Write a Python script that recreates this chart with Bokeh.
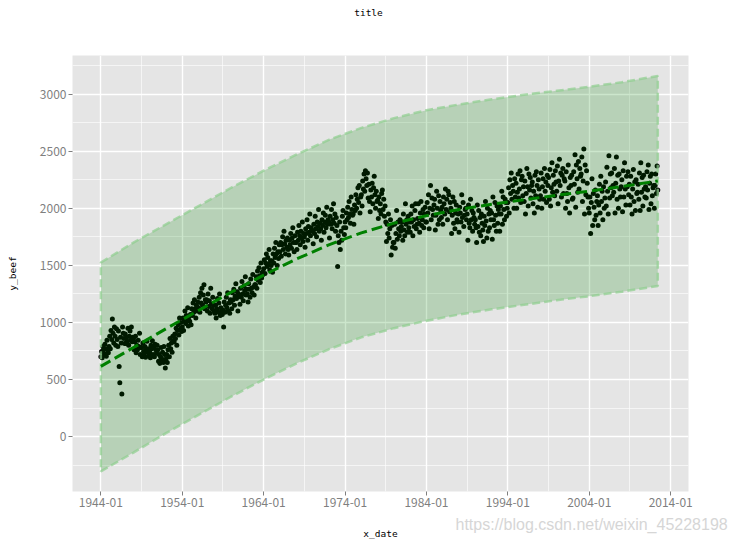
import pandas as pd
from bokeh.plotting import figure
from bokeh.models import Range1d, FixedTicker, DatetimeTickFormatter, Label, ColumnDataSource
from bokeh.embed import file_html
from bokeh.resources import INLINE

# ---- monthly beef values, 1944-01 .. 2012-06 ----
beef_1940s = [
    700, 745, 690, 790, 760, 725, 810, 770, 705, 845, 760, 735,
    790, 880, 770, 930, 850, 1030, 905, 820, 960, 880, 800, 945,
    850, 790, 925, 614, 471, 870, 820, 374, 960, 905, 860, 815,
    900, 815, 870, 835, 950, 800, 880, 925, 845, 960, 830, 870,
    860, 760, 830, 880, 735, 800, 760, 845, 790, 905, 720, 780,
    780, 700, 820, 745, 720, 790, 695, 760, 835, 740, 770, 710,
]
beef_1950s = [
    740, 690, 800, 770, 840, 720, 780, 700, 810, 760, 730, 800,
    760, 660, 720, 640, 700, 780, 680, 740, 650, 790, 720, 602,
    680, 720, 650, 760, 800, 700, 860, 770, 820, 740, 880, 840,
    830, 900, 860, 950, 800, 930, 980, 890, 1040, 940, 1000, 920,
    960, 1040, 930, 1010, 1100, 990, 1060, 1020, 1130, 970, 1050, 1010,
    1070, 980, 1120, 1060, 1170, 1090, 1200, 1120, 1040, 1150, 1100, 1180,
    1130, 1220, 1090, 1260, 1170, 1300, 1150, 1240, 1330, 1120, 1200, 1180,
    1200, 1100, 1250, 1140, 1190, 1080, 1300, 1160, 1120, 1220, 1150, 1100,
    1080, 1150, 1040, 1120, 1210, 1090, 1170, 1250, 1060, 1130, 1100, 1070,
    1110, 960, 1180, 1090, 1150, 1220, 1130, 1260, 1100, 1170, 1080, 1200,
]
beef_1960s = [
    1180, 1120, 1260, 1200, 1290, 1150, 1230, 1340, 1210, 1270, 1100, 1250,
    1230, 1160, 1300, 1220, 1360, 1250, 1190, 1320, 1280, 1400, 1240, 1290,
    1250, 1180, 1340, 1290, 1220, 1380, 1300, 1260, 1420, 1310, 1240, 1330,
    1330, 1400, 1300, 1450, 1370, 1480, 1410, 1350, 1520, 1390, 1440, 1420,
    1470, 1550, 1430, 1520, 1600, 1490, 1570, 1510, 1640, 1460, 1540, 1500,
    1540, 1440, 1600, 1520, 1650, 1570, 1700, 1600, 1500, 1620, 1560, 1680,
    1620, 1700, 1580, 1680, 1750, 1640, 1800, 1690, 1600, 1720, 1660, 1740,
    1640, 1590, 1720, 1680, 1780, 1650, 1740, 1830, 1700, 1620, 1760, 1700,
    1700, 1640, 1790, 1720, 1850, 1760, 1680, 1800, 1740, 1880, 1710, 1780,
    1750, 1660, 1820, 1780, 1900, 1720, 1840, 1790, 1950, 1760, 1830, 1810,
]
beef_1970s = [
    1800, 1690, 1860, 1780, 1930, 1820, 1750, 1880, 1840, 1990, 1800, 1870,
    1820, 1720, 1900, 1850, 1960, 1790, 1880, 1940, 1830, 2010, 1860, 1900,
    1880, 1740, 1930, 1860, 1990, 1820, 1900, 2040, 1870, 1950, 1800, 1920,
    1850, 1490, 1760, 1700, 1880, 1640, 1800, 1720, 1930, 1980, 1830, 1770,
    1880, 1830, 1960, 1900, 2010, 1920, 2060, 1950, 1870, 2100, 1990, 1940,
    1950, 1860, 2030, 1980, 2120, 2000, 2080, 2180, 2050, 2200, 1960, 2100,
    2120, 2020, 2240, 2170, 2300, 2150, 2330, 2260, 2200, 2310, 2090, 2210,
    2060, 1970, 2160, 2100, 2220, 2040, 2180, 2280, 2120, 2000, 2150, 2060,
    2070, 1910, 2100, 1980, 2040, 1950, 2130, 2160, 1990, 2080, 1930, 2020,
    1880, 1710, 1860, 1780, 1950, 1740, 1820, 1900, 1590, 1850, 1660, 1700,
]
beef_1980s = [
    1700, 1860, 1650, 1780, 1980, 1730, 1880, 1820, 1760, 1900, 1800, 1840,
    1880, 1720, 1950, 1810, 1760, 2040, 1860, 1900, 1790, 1930, 1830, 1880,
    1790, 1950, 1880, 2020, 1760, 1900, 1840, 1980, 2040, 1820, 1860, 1910,
    2040, 1870, 1790, 1960, 2060, 1850, 1900, 1990, 1830, 1950, 2010, 1880,
    1880, 2050, 1960, 2120, 1820, 2000, 2200, 1900, 2090, 1990, 1940, 2030,
    2080, 1810, 1940, 2150, 2000, 1860, 2110, 1900, 2060, 1980, 1920, 2010,
    1860, 2100, 2040, 1950, 2170, 1990, 2080, 1900, 2150, 2120, 1970, 2050,
    2000, 1780, 1940, 2100, 1870, 2060, 1820, 1960, 2030, 1900, 1880, 1950,
    1790, 2010, 1960, 1880, 2120, 1920, 2050, 1840, 1940, 1990, 2000, 1900,
    1950, 1720, 2030, 1870, 1830, 2080, 1900, 1980, 1800, 1960, 1920, 1860,
]
beef_1990s = [
    1900, 1830, 1700, 2030, 1840, 1980, 1790, 1920, 1760, 1950, 1870, 1810,
    1710, 1930, 1850, 2060, 1890, 1740, 2000, 1800, 1950, 1830, 1980, 1900,
    1960, 1730, 2100, 1900, 1850, 2050, 1940, 1800, 2020, 1870, 1990, 1950,
    1800, 2020, 1950, 2150, 1860, 2100, 1990, 1900, 2080, 2050, 1930, 2000,
    2050, 2180, 1960, 2250, 2130, 2310, 2080, 2200, 2150, 2000, 2260, 2100,
    2220, 2000, 2140, 2300, 2090, 2170, 2330, 2050, 2250, 2280, 2110, 2190,
    2060, 2240, 1950, 2130, 2350, 2190, 2020, 2300, 2160, 2270, 2090, 2200,
    2230, 2040, 2150, 1960, 2290, 2110, 2320, 2200, 2010, 2250, 2170, 2080,
    2110, 2310, 2000, 2190, 2260, 2080, 2350, 2150, 2230, 2050, 2290, 2200,
    2270, 2080, 2340, 2020, 2180, 2400, 2140, 2290, 2210, 2110, 2330, 2230,
]
beef_2000s = [
    2150, 2370, 2040, 2240, 2430, 2200, 2310, 2100, 2290, 2350, 2130, 2260,
    2240, 2000, 2320, 2130, 2060, 2380, 2180, 1960, 2270, 2200, 2290, 2080,
    2090, 2320, 2210, 2470, 2010, 2380, 2260, 2140, 2410, 2170, 2350, 2280,
    2300, 2450, 2060, 2240, 2520, 1950, 2380, 2120, 2330, 2220, 2100, 2000,
    1960, 2100, 1780, 2050, 2260, 1850, 2130, 2010, 1900, 2160, 1940, 2060,
    2110, 1850, 2030, 2210, 1960, 2280, 2060, 2150, 1900, 2190, 2000, 2090,
    2230, 2020, 2360, 2150, 1950, 2460, 2090, 2300, 2180, 2310, 2110, 2200,
    2140, 2350, 1960, 2220, 2450, 2080, 2290, 2000, 2300, 2170, 2100, 2190,
    2250, 1970, 2330, 2100, 2400, 2170, 2030, 2280, 2190, 2320, 2120, 2210,
    2030, 2280, 2100, 1950, 2170, 2340, 2060, 2230, 1980, 2250, 2130, 2140,
]
beef_2010s = [
    2210, 2080, 2310, 1980, 2400, 2140, 2270, 2020, 2290, 2170, 2100, 2190,
    2090, 2320, 2160, 2380, 1990, 2220, 2280, 2040, 2300, 2110, 2180, 2200,
    2000, 2200, 2300, 2130, 2370, 2160,
]
first_month = "1944-01-01"

# ---- fitted trend and its band ----
fit_dates = ["1944-01-01", "1948-01-01", "1952-01-01", "1956-01-01", "1960-01-01",
             "1964-01-01", "1968-01-01", "1972-01-01", "1976-01-01", "1980-01-01",
             "1984-01-01", "1988-01-01", "1992-01-01", "1996-01-01", "2000-01-01",
             "2004-01-01", "2008-01-01", "2012-06-01"]
fit_values = [615, 780, 945, 1105, 1265, 1415, 1555, 1680, 1785, 1870,
              1935, 1990, 2035, 2075, 2115, 2150, 2190, 2240]
band_upper = [1525, 1700, 1860, 2020, 2180, 2330, 2470, 2600, 2705, 2790,
              2860, 2910, 2955, 2995, 3030, 3065, 3105, 3160]
band_lower = [-305, -140, 30, 190, 350, 500, 640, 765, 870, 950,
              1015, 1070, 1115, 1155, 1195, 1230, 1270, 1320]

y_ticks = [0, 500, 1000, 1500, 2000, 2500, 3000]
y_minor = [-250, 250, 750, 1250, 1750, 2250, 2750, 3250]
x_tick_dates = ["1944-01-01", "1954-01-01", "1964-01-01", "1974-01-01",
                "1984-01-01", "1994-01-01", "2004-01-01", "2014-01-01"]
x_minor_dates = ["1949-01-01", "1959-01-01", "1969-01-01", "1979-01-01",
                 "1989-01-01", "1999-01-01", "2009-01-01"]


def ms(d):
    return pd.Timestamp(d).value / 1e6


beef = beef_1940s + beef_1950s + beef_1960s + beef_1970s + beef_1980s + beef_1990s + beef_2000s + beef_2010s
dates = pd.date_range(first_month, periods=len(beef), freq="MS")
pts = ColumnDataSource(dict(x=dates, y=beef))

fx = [pd.Timestamp(d) for d in fit_dates]

p = figure(width=736, height=543, x_axis_type="datetime", output_backend="svg",
           toolbar_location=None,
           x_range=Range1d(ms("1940-07-08"), ms("2016-03-10")),
           y_range=Range1d(-481, 3339),
           min_border_left=72, min_border_right=48, min_border_top=55, min_border_bottom=52)

p.background_fill_color = "#E5E5E5"
p.border_fill_color = "white"
p.outline_line_color = None

# points (drawn first, ribbon on top of them)
p.scatter("x", "y", source=pts, size=5, fill_color="black", line_color=None)

# ribbon
p.patch(fx + fx[::-1], band_upper + band_lower[::-1],
        fill_color="#008000", fill_alpha=0.2,
        line_color="#8fce8f", line_alpha=0.7, line_width=2.5, line_dash="8 4")

# fit line
p.line(fx, fit_values, line_color="#008000", line_width=3, line_dash="11 5")

# ticks / grids
xt = FixedTicker(ticks=[ms(d) for d in x_tick_dates], minor_ticks=[ms(d) for d in x_minor_dates])
yt = FixedTicker(ticks=y_ticks, minor_ticks=y_minor)
p.xaxis.ticker = xt
p.yaxis.ticker = yt
p.xgrid.ticker = xt
p.ygrid.ticker = yt
fmt = "%Y-%m"
p.xaxis.formatter = DatetimeTickFormatter(years=fmt, months=fmt, days=fmt, hours=fmt,
                                          minutes=fmt, seconds=fmt, milliseconds=fmt,
                                          microseconds=fmt, minsec=fmt, hourmin=fmt)
for g in (p.xgrid, p.ygrid):
    g.grid_line_color = "white"
    g.grid_line_width = 1.4
    g.minor_grid_line_color = "white"
    g.minor_grid_line_width = 0.6

for ax in (p.xaxis, p.yaxis):
    ax.axis_line_color = None
    ax.major_tick_line_color = "#7f7f7f"
    ax.major_tick_line_width = 1
    ax.major_tick_in = 0
    ax.major_tick_out = 4
    ax.minor_tick_line_color = None
    ax.major_label_text_font = "Noto Sans CJK SC"
    ax.major_label_text_font_size = "12px"
    ax.major_label_text_color = "#7f7f7f"
    ax.major_label_standoff = 2
    ax.axis_label_text_font = "DejaVu Sans Mono"
    ax.axis_label_text_font_size = "9.5px"
    ax.axis_label_text_font_style = "normal"
    ax.axis_label_text_color = "black"

p.xaxis.axis_label = "x_date"
p.yaxis.axis_label = "y_beef"
p.xaxis.axis_label_standoff = 18
p.yaxis.axis_label_standoff = 19

p.title.text = ""

# texts placed in the top border panel (offsets relative to their panel box)
wm = Label(x=383, y=-469, x_units="screen", y_units="screen",
           text="https://blog.csdn.net/weixin_45228198",
           text_font="Liberation Sans", text_font_size="16px", text_color="#d6d6d6",
           text_baseline="middle", text_align="left")
p.add_layout(wm, "above")

ttl = Label(x=296, y=26, x_units="screen", y_units="screen", text="title",
            text_font="DejaVu Sans Mono", text_font_size="9.5px", text_color="black",
            text_baseline="middle", text_align="center")
p.add_layout(ttl, "above")

open("out.html", "w").write(file_html(p, INLINE))
